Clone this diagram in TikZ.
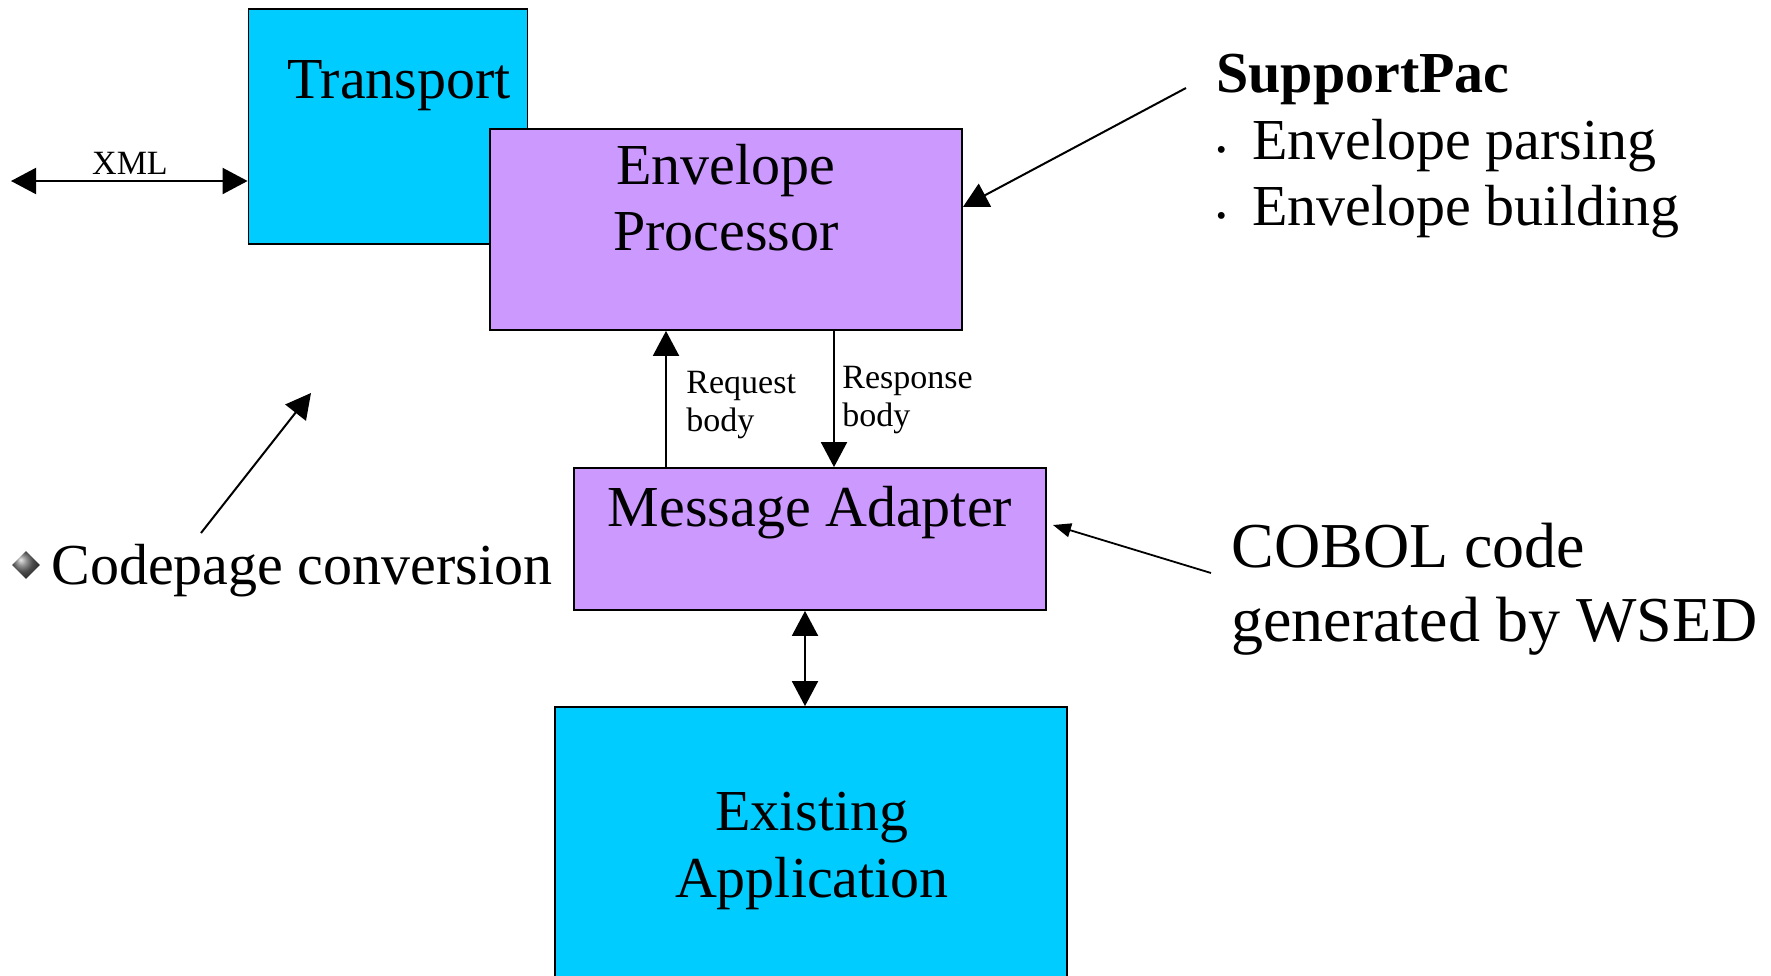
\documentclass[tikz,border=0pt]{standalone}
\usepackage{fontspec}
\setmainfont{Liberation Serif}
\usetikzlibrary{arrows.meta,shapes.geometric}
\definecolor{cyanbox}{HTML}{00CCFF}
\definecolor{violetbox}{HTML}{CC99FF}
\begin{document}
\begin{tikzpicture}[x=0.5pt,y=-0.5pt,
  box/.style={draw=black, line width=0.9pt, rectangle, inner sep=0pt},
  bigtext/.style={font=\fontsize{29}{33}\selectfont, inner sep=0pt},
  cobtext/.style={font=\fontsize{32}{37}\selectfont, inner sep=0pt},
  smalltext/.style={font=\fontsize{17}{19}\selectfont, inner sep=0pt},
  bigarr/.style={line width=1pt, -{Triangle[length=12.5pt,width=13pt]}},
  bigdbl/.style={line width=1pt, {Triangle[length=12.5pt,width=13pt]}-{Triangle[length=12.5pt,width=13pt]}},
  smallarr/.style={line width=0.9pt, -{Triangle[length=9pt,width=7pt]}}]

\useasboundingbox (0,0) rectangle (1771,975);
\clip (0,0) rectangle (1771,975);

% boxes
\node[box, fill=cyanbox, minimum width=139.5pt, minimum height=117.5pt] (T) at (388,126.5) {};
\node[bigtext, anchor=base] (Tt) at (399,98) {Transport};

\node[box, fill=violetbox, minimum width=236pt, minimum height=100.5pt] (E) at (726,229.5) {};
\node[bigtext, anchor=base] (E1) at (726,184) {Envelope};
\node[bigtext, anchor=base] (E2) at (726,250) {Processor};

\node[box, fill=violetbox, minimum width=236pt, minimum height=71pt] (M) at (810,539) {};
\node[bigtext, anchor=base] (Mt) at (810,526) {Message Adapter};

\node[box, fill=cyanbox, minimum width=256pt, minimum height=141.5pt] (A) at (811,848.5) {};
\node[bigtext, anchor=base] (A1) at (812,830) {Existing};
\node[bigtext, anchor=base] (A2) at (812,897) {Application};

% XML
\coordinate (xmlL) at (11,181);
\draw[bigdbl] (xmlL) -- (xmlL -| T.west);
\node[smalltext, anchor=base] (xml) at (130,174) {XML};

% request / response
\coordinate (req) at (666,0);
\coordinate (resp) at (834,0);
\draw[bigarr] (req |- M.north) -- (req |- E.south);
\draw[bigarr] (resp |- E.south) -- (resp |- M.north);
\node[smalltext, anchor=base west] (rq1) at (686,393) {Request};
\node[smalltext, anchor=base west] (rq2) at (686,431) {body};
\node[smalltext, anchor=base west] (rs1) at (842,388) {Response};
\node[smalltext, anchor=base west] (rs2) at (842,426) {body};

% adapter <-> application
\coordinate (ma) at (805,0);
\draw[bigdbl] (ma |- M.south) -- (ma |- A.north);

% SupportPac
\node[bigtext, anchor=base west] (sp) at (1216,92) {\textbf{SupportPac}};
\node[bigtext, anchor=base west] (sp1) at (1214,159) {\raisebox{3.5pt}{.}\hspace{11.7pt}Envelope parsing};
\node[bigtext, anchor=base west] (sp2) at (1214,225) {\raisebox{3.5pt}{.}\hspace{11.7pt}Envelope building};
\coordinate (spS) at (1186,88);
\coordinate (spY) at (0,207);
\draw[bigarr] (spS) -- (E.east |- spY);

% Codepage
\node[diamond, ball color=gray!85!black, minimum size=14pt, inner sep=0pt] (cpb) at (26,565) {};
\node[bigtext, anchor=base west] (cp) at (51,584) {Codepage conversion};
\coordinate (cpS) at (201,533);
\coordinate (cpE) at (311,393);
\draw[bigarr] (cpS) -- (cpE);

% COBOL
\node[cobtext, anchor=base west] (cb1) at (1231,567) {COBOL code};
\node[cobtext, anchor=base west] (cb2) at (1231,641) {generated by WSED};
\coordinate (cbS) at (1211,573);
\coordinate (cbE) at (1053,525);
\draw[smallarr] (cbS) -- (cbE);
\end{tikzpicture}
\end{document}
